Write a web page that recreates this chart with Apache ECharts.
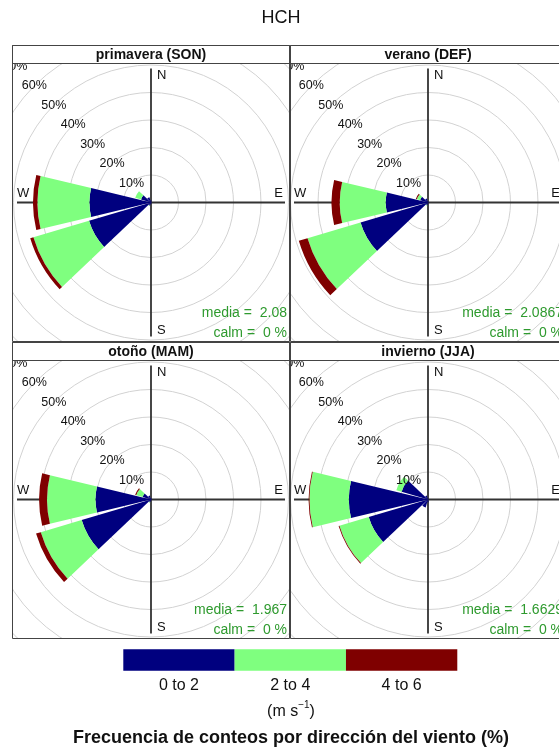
<!DOCTYPE html>
<html>
<head>
<meta charset="utf-8">
<script src="https://cdn.jsdelivr.net/npm/echarts/dist/echarts.min.js"></script>
<style>
  html, body { margin: 0; padding: 0; width: 559px; height: 751px; overflow: hidden; background: #fff; }
  .box { position: absolute; }
</style>
</head>
<body>
<div id="frame" class="box" style="left:0;top:0;width:559px;height:751px"></div>
<div id="p0" class="box"></div>
<div id="p1" class="box"></div>
<div id="p2" class="box"></div>
<div id="p3" class="box"></div>
<script>
// ---- data ----
const directions = ['0', '30', '60', '90', '120', '150', '180', '210', '240', '270', '300', '330'];
const speedBins = ['0 to 2', '2 to 4', '4 to 6'];
const ringTicks = [10, 20, 30, 40, 50, 60, 70];
const ringLabels = ['10%', '20%', '30%', '40%', '50%', '60%', '70%'];
const compassLabels = ['N', 'E', 'S', 'W'];
const compassAngles = [0, 90, 180, 270];

const seasons = ['primavera (SON)', 'verano (DEF)', 'otoño (MAM)', 'invierno (JJA)'];
const seasonMeans = ['2.08', '2.0867', '1.967', '1.6629'];
const seasonCalm = ['0', '0', '0', '0'];

// frequency (%) by direction, one array per speed bin
const sonSlow = [0.8, 0.3, 0.2, 0.2, 0.2, 0.3, 0.5, 1.2, 23.5, 22.4, 3.8, 2.0];
const sonMid  = [0, 0, 0, 0, 0, 0, 0, 0.2, 21.1, 18.9, 2.2, 0];
const sonFast = [0, 0, 0, 0, 0, 0, 0, 0, 1.2, 1.6, 0, 0];

const defSlow = [0.6, 0.3, 0.2, 0.2, 0.2, 0.3, 0.4, 1.0, 25.6, 15.4, 3.0, 1.5];
const defMid  = [0, 0, 0, 0, 0, 0, 0, 0.2, 20.1, 16.7, 1.2, 0];
const defFast = [0, 0, 0, 0, 0, 0, 0, 0, 3.3, 3.0, 0.4, 0];

const mamSlow = [0.6, 0.3, 0.2, 0.2, 0.2, 0.3, 0.4, 1.0, 26.3, 20.2, 3.2, 1.5];
const mamMid  = [0, 0, 0, 0, 0, 0, 0, 0.2, 15.5, 17.6, 2.4, 0];
const mamFast = [0, 0, 0, 0, 0, 0, 0, 0, 1.8, 2.9, 0.4, 0];

const jjaSlow = [0.5, 0.3, 0.2, 0.2, 0.2, 0.3, 1.0, 3.0, 22.5, 28.8, 10.0, 1.5];
const jjaMid  = [0, 0, 0, 0, 0, 0, 0, 0, 11.1, 14.3, 2.0, 0];
const jjaFast = [0, 0, 0, 0, 0, 0, 0, 0, 0.3, 0.3, 0, 0];

const panelBins = [
  [sonSlow, sonMid, sonFast],
  [defSlow, defMid, defFast],
  [mamSlow, mamMid, mamFast],
  [jjaSlow, jjaMid, jjaFast]
];

// ---- styling / layout ----
const binColors = ['#00007F', '#7FFF7F', '#7F0000'];
const FONT = '"Liberation Sans", Arial, Helvetica, sans-serif';
const TEXT_GREEN = '#2e9a2e';
const PX_PER_PCT = 2.75;
const RADIUS_MAX = 80;
const CROSS_PX = 134;
const STRIP_H = 18;
const PANEL_H = 297;
const panelBoxes = [[12, 45, 278], [290, 45, 276], [12, 342, 278], [290, 342, 276]];

const hiddenAxis = {
  axisLine: { show: false }, axisTick: { show: false },
  axisLabel: { show: false }, splitLine: { show: false }
};

function drawPanel(idx) {
  const [left, top, w] = panelBoxes[idx];
  const el = document.getElementById('p' + idx);
  el.style.left = left + 'px';
  el.style.top = top + 'px';
  el.style.width = w + 'px';
  el.style.height = PANEL_H + 'px';
  const chart = echarts.init(el, null, { renderer: 'canvas' });
  const cx = w / 2;
  const cy = STRIP_H + (PANEL_H - STRIP_H) / 2;
  const rOuter = RADIUS_MAX * PX_PER_PCT;
  const bins = panelBins[idx];

  chart.setOption({
    animation: false,
    polar: [
      { center: [cx, cy], radius: [0, rOuter] },   // petals + rings
      { center: [cx, cy], radius: [0, CROSS_PX] }, // compass cross
      { center: [cx, cy], radius: [0, rOuter] }    // helper for label placement
    ],
    angleAxis: [
      Object.assign({ polarIndex: 0, type: 'category', data: directions, startAngle: 105, clockwise: true, boundaryGap: true }, hiddenAxis),
      Object.assign({ polarIndex: 1, type: 'value', min: 0, max: 360, interval: 90, startAngle: 90, clockwise: true }, hiddenAxis,
        { splitLine: { show: true, lineStyle: { color: '#333', width: 1.8 } } }),
      Object.assign({ polarIndex: 2, type: 'value', min: 0, max: 360, startAngle: 90, clockwise: true }, hiddenAxis)
    ],
    radiusAxis: [
      Object.assign({ polarIndex: 0, type: 'value', min: 0, max: RADIUS_MAX, interval: 10 }, hiddenAxis,
        { splitLine: { show: true, lineStyle: { color: '#d2d2d2', width: 1 } } }),
      Object.assign({ polarIndex: 1, type: 'value', min: 0, max: 1 }, hiddenAxis),
      Object.assign({ polarIndex: 2, type: 'value', min: 0, max: RADIUS_MAX }, hiddenAxis)
    ],
    series: speedBins.map((name, k) => ({
      name: name,
      type: 'bar',
      coordinateSystem: 'polar',
      polarIndex: 0,
      stack: 'speed',
      data: bins[k],
      barCategoryGap: '10%',
      itemStyle: { color: binColors[k] },
      silent: true
    }))
  });

  const g = [];
  // percentage labels along the north-west diagonal
  ringTicks.forEach((v, i) => {
    const p = chart.convertToPixel({ polarIndex: 2 }, [v, 315]) ||
      [cx - v * PX_PER_PCT * Math.SQRT1_2, cy - v * PX_PER_PCT * Math.SQRT1_2];
    g.push({
      type: 'text', x: p[0], y: p[1], z: 5,
      style: { text: ringLabels[i], font: '12.5px ' + FONT, fill: '#111', textAlign: 'center', textVerticalAlign: 'middle' }
    });
  });
  // compass letters at the ends of the cross
  const compassOffset = { N: [6, 7, 'left'], E: [-2, -9.5, 'right'], S: [6, -6.5, 'left'], W: [0, -9.5, 'left'] };
  compassLabels.forEach((lab, i) => {
    const p = chart.convertToPixel({ polarIndex: 1 }, [1, compassAngles[i]]);
    const o = compassOffset[lab];
    g.push({
      type: 'text', x: p[0] + o[0], y: p[1] + o[1], z: 5,
      style: { text: lab, font: '13px ' + FONT, fill: '#111', textAlign: o[2], textVerticalAlign: 'middle' }
    });
  });
  // statistics
  g.push({
    type: 'text', x: w - 3, y: 268, z: 5,
    style: { text: 'media =  ' + seasonMeans[idx], font: '14px ' + FONT, fill: TEXT_GREEN, textAlign: 'right', textVerticalAlign: 'middle' }
  });
  g.push({
    type: 'text', x: w - 3, y: 288.5, z: 5,
    style: { text: 'calm =  ' + seasonCalm[idx] + ' %', font: '14px ' + FONT, fill: TEXT_GREEN, textAlign: 'right', textVerticalAlign: 'middle' }
  });
  // strip header and panel frame
  g.push({
    type: 'rect', z: 100,
    shape: { x: 0.5, y: 0.5, width: w - 1, height: STRIP_H },
    style: { fill: '#fff', stroke: '#444', lineWidth: 1 }
  });
  g.push({
    type: 'text', x: w / 2, y: STRIP_H / 2 + 1, z: 101,
    style: { text: seasons[idx], font: 'bold 14px ' + FONT, fill: '#111', textAlign: 'center', textVerticalAlign: 'middle' }
  });
  g.push({
    type: 'rect', z: 102,
    shape: { x: 0.5, y: 0.5, width: w - 1, height: PANEL_H - 1 },
    style: { fill: 'none', stroke: '#444', lineWidth: 1 }
  });
  chart.setOption({ graphic: { elements: g } });
}

function drawFrame() {
  const chart = echarts.init(document.getElementById('frame'), null, { renderer: 'canvas' });
  const g = [];
  g.push({
    type: 'text', x: 281, y: 18,
    style: { text: 'HCH', font: '18px ' + FONT, fill: '#111', textAlign: 'center', textVerticalAlign: 'middle' }
  });
  const keyLeft = 123.3, keyWidth = 111.33, keyTop = 649.3, keyHeight = 21.4;
  speedBins.forEach((lab, k) => {
    g.push({
      type: 'rect',
      shape: { x: keyLeft + k * keyWidth, y: keyTop, width: keyWidth, height: keyHeight },
      style: { fill: binColors[k] }
    });
    g.push({
      type: 'text', x: keyLeft + (k + 0.5) * keyWidth, y: 686,
      style: { text: lab, font: '16px ' + FONT, fill: '#111', textAlign: 'center', textVerticalAlign: 'middle' }
    });
  });
  g.push({
    type: 'text', x: 291, y: 710,
    style: {
      text: '{a|(m s}{b|−1}{a|)}',
      textAlign: 'center', textVerticalAlign: 'middle',
      rich: {
        a: { font: '16px ' + FONT, fill: '#111', verticalAlign: 'bottom', lineHeight: 20 },
        b: { font: '10px ' + FONT, fill: '#111', verticalAlign: 'top', lineHeight: 20 }
      }
    }
  });
  g.push({
    type: 'text', x: 291, y: 738,
    style: { text: 'Frecuencia de conteos por dirección del viento (%)', font: 'bold 18px ' + FONT, fill: '#111', textAlign: 'center', textVerticalAlign: 'middle' }
  });
  chart.setOption({ animation: false, graphic: { elements: g } });
}

drawFrame();
for (let i = 0; i < 4; i++) drawPanel(i);
</script>
</body>
</html>
